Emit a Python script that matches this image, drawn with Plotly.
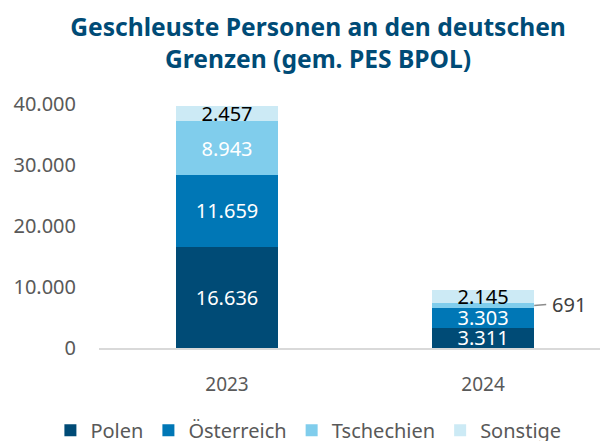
import plotly.graph_objects as go

years = ["2023", "2024"]
polen = [16636, 3311]
oesterreich = [11659, 3303]
tschechien = [8943, 691]
sonstige = [2457, 2145]

series = [
    ("Polen", polen, "#004B76", "white"),
    ("Österreich", oesterreich, "#0077B6", "white"),
    ("Tschechien", tschechien, "#80CDEC", "white"),
    ("Sonstige", sonstige, "#CCEAF5", "black"),
]

FONT = "Noto Sans, Open Sans, sans-serif"
GRAY = "#595959"

fig = go.Figure()
for name, vals, color, tcolor in series:
    # small segments get an outside callout instead of inside text
    tmpl = ["%{y:,d}" if v > 1500 else "" for v in vals]
    fig.add_trace(go.Bar(
        name=name, x=years, y=vals,
        marker=dict(color=color, line=dict(width=0)),
        width=0.4,
        texttemplate=tmpl, textposition="inside", textangle=0,
        insidetextanchor="middle", constraintext="none",
        insidetextfont=dict(family=FONT, size=20, color=tcolor),
        hoverinfo="skip",
    ))

# callout for the small Tschechien 2024 segment
i = 1
ymid = polen[i] + oesterreich[i] + tschechien[i] / 2
fig.add_annotation(
    x=i + 0.2, y=ymid, xref="x", yref="y",
    text=f"{tschechien[i]:,}".replace(",", "."),
    showarrow=True, arrowhead=0, arrowwidth=1.5, arrowcolor="#8c8c8c",
    ax=12, ay=-1, xanchor="left", borderpad=5,
    font=dict(family=FONT, size=20, color="#404040"),
)

fig.update_layout(
    width=600, height=441,
    margin=dict(l=99, r=0, t=104, b=93, autoexpand=False),
    barmode="stack",
    separators=",.",
    plot_bgcolor="white", paper_bgcolor="white",
    font=dict(family=FONT, color=GRAY),
    uniformtext=dict(minsize=20, mode="show"),
    title=dict(
        text="<b>Geschleuste Personen an den deutschen<br>Grenzen (gem. PES BPOL)</b>",
        x=0.53, xanchor="center", y=0.918, yanchor="top",
        font=dict(family=FONT, size=24.6, color="#004B76"),
    ),
    legend=dict(
        orientation="h", x=-0.097, xanchor="left",
        y=-0.337, yanchor="middle",
        font=dict(family=FONT, size=20, color=GRAY),
        traceorder="normal",
    ),
    xaxis=dict(
        range=[-0.5, 1.457], showgrid=False,
        showline=True, linecolor="#d9d9d9", linewidth=2,
        tickfont=dict(family=FONT, size=19, color=GRAY),
        ticks="", ticklabelstandoff=18,
    ),
    yaxis=dict(
        range=[0, 40000], tickvals=[0, 10000, 20000, 30000, 40000],
        tickformat=",d", showgrid=False, zeroline=False, showline=False,
        tickfont=dict(family=FONT, size=20, color=GRAY),
        ticklabelstandoff=22,
    ),
)

fig.write_html("out.html", config={"displayModeBar": False},
               post_script="document.body.style.margin='0';")
